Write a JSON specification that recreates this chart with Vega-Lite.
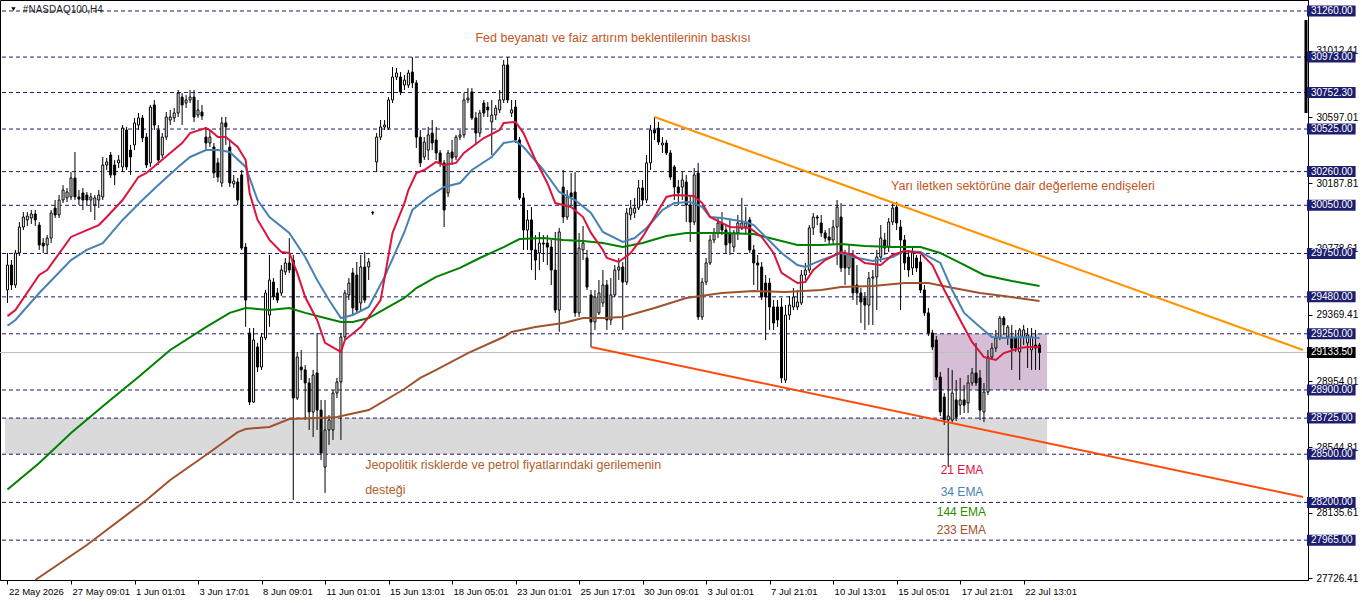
{
"$schema": "https://vega.github.io/schema/vega-lite/v6.json",
"width": 1308, "height": 580,
"autosize": {"type": "none"},
"padding": {"left": 0, "top": 0, "right": 54, "bottom": 23},
"background": "white",
"config": {"view": {"stroke": "#000", "strokeWidth": 1}, "font": "Liberation Sans", "axis": {"grid": false}},
"data": {"values": [{"k": 1}]},
"datasets": {
"bars": [
{"i":0,"o":29523,"h":29753,"l":29442,"c":29678},{"i":1,"o":29678,"h":29709,"l":29523,"c":29554},{"i":2,"o":29554,"h":29772,"l":29535,"c":29753},{"i":3,"o":29753,"h":29946,"l":29734,"c":29915},{"i":4,"o":29915,"h":30008,"l":29896,"c":29977},{"i":5,"o":29959,"h":30008,"l":29921,"c":29983},{"i":6,"o":29971,"h":30021,"l":29934,"c":29996},{"i":7,"o":29996,"h":30021,"l":29921,"c":29959},{"i":8,"o":29927,"h":29946,"l":29772,"c":29803},{"i":9,"o":29815,"h":29846,"l":29753,"c":29797},
{"i":10,"o":29803,"h":29865,"l":29753,"c":29846},{"i":11,"o":29846,"h":30021,"l":29815,"c":30002},{"i":12,"o":30033,"h":30083,"l":29971,"c":29990},{"i":13,"o":29990,"h":30114,"l":29971,"c":30083},{"i":14,"o":30083,"h":30176,"l":30064,"c":30145},{"i":15,"o":30096,"h":30158,"l":30071,"c":30133},{"i":16,"o":30102,"h":30257,"l":30083,"c":30220},{"i":17,"o":30220,"h":30382,"l":30083,"c":30102},{"i":18,"o":30102,"h":30145,"l":30052,"c":30089},{"i":19,"o":30127,"h":30158,"l":30021,"c":30083},
{"i":20,"o":30114,"h":30133,"l":30052,"c":30083},{"i":21,"o":30083,"h":30127,"l":30008,"c":30102},{"i":22,"o":30052,"h":30114,"l":29959,"c":30096},{"i":23,"o":30083,"h":30145,"l":30033,"c":30114},{"i":24,"o":30102,"h":30351,"l":30083,"c":30301},{"i":25,"o":30301,"h":30345,"l":30270,"c":30320},{"i":26,"o":30363,"h":30382,"l":30220,"c":30239},{"i":27,"o":30301,"h":30332,"l":30176,"c":30239},{"i":28,"o":30314,"h":30363,"l":30282,"c":30332},{"i":29,"o":30289,"h":30550,"l":30257,"c":30531},
{"i":30,"o":30519,"h":30538,"l":30270,"c":30289},{"i":31,"o":30394,"h":30426,"l":30239,"c":30351},{"i":32,"o":30426,"h":30594,"l":30394,"c":30563},{"i":33,"o":30550,"h":30625,"l":30519,"c":30594},{"i":34,"o":30594,"h":30612,"l":30444,"c":30469},{"i":35,"o":30475,"h":30500,"l":30282,"c":30301},{"i":36,"o":30314,"h":30675,"l":30289,"c":30662},{"i":37,"o":30675,"h":30706,"l":30519,"c":30550},{"i":38,"o":30519,"h":30550,"l":30301,"c":30332},{"i":39,"o":30363,"h":30500,"l":30345,"c":30475},
{"i":40,"o":30475,"h":30631,"l":30457,"c":30600},{"i":41,"o":30581,"h":30644,"l":30550,"c":30600},{"i":42,"o":30594,"h":30656,"l":30569,"c":30625},{"i":43,"o":30625,"h":30768,"l":30600,"c":30749},{"i":44,"o":30724,"h":30749,"l":30550,"c":30675},{"i":45,"o":30687,"h":30737,"l":30656,"c":30706},{"i":46,"o":30706,"h":30768,"l":30687,"c":30724},{"i":47,"o":30724,"h":30768,"l":30569,"c":30600},{"i":48,"o":30612,"h":30706,"l":30594,"c":30644},{"i":49,"o":30631,"h":30675,"l":30581,"c":30606},
{"i":50,"o":30475,"h":30538,"l":30394,"c":30438},{"i":51,"o":30438,"h":30519,"l":30413,"c":30475},{"i":52,"o":30413,"h":30438,"l":30220,"c":30251},{"i":53,"o":30314,"h":30345,"l":30195,"c":30226},{"i":54,"o":30189,"h":30600,"l":30164,"c":30563},{"i":55,"o":30563,"h":30600,"l":30426,"c":30538},{"i":56,"o":30413,"h":30457,"l":30164,"c":30189},{"i":57,"o":30183,"h":30239,"l":30158,"c":30201},{"i":58,"o":30195,"h":30220,"l":30052,"c":30083},{"i":59,"o":30239,"h":30270,"l":29772,"c":29784},
{"i":60,"o":29790,"h":29815,"l":29293,"c":29460},{"i":61,"o":29255,"h":29286,"l":28806,"c":28825},{"i":62,"o":28825,"h":29286,"l":28819,"c":29211},{"i":63,"o":29168,"h":29193,"l":29012,"c":29043},{"i":64,"o":29043,"h":29255,"l":29025,"c":29230},{"i":65,"o":29224,"h":29523,"l":29211,"c":29504},{"i":66,"o":29367,"h":29741,"l":29293,"c":29585},{"i":67,"o":29572,"h":29597,"l":29460,"c":29479},{"i":68,"o":29504,"h":29535,"l":29442,"c":29460},{"i":69,"o":29504,"h":29678,"l":29485,"c":29647},
{"i":70,"o":29635,"h":29722,"l":29616,"c":29691},{"i":71,"o":29691,"h":29846,"l":29629,"c":29647},{"i":72,"o":29709,"h":29741,"l":28215,"c":28850},{"i":73,"o":28850,"h":29137,"l":28838,"c":29105},{"i":74,"o":29043,"h":29149,"l":28962,"c":29025},{"i":75,"o":29025,"h":29056,"l":28713,"c":28944},{"i":76,"o":28944,"h":28975,"l":28651,"c":28763},{"i":77,"o":28763,"h":29025,"l":28607,"c":28993},{"i":78,"o":29006,"h":29255,"l":28651,"c":28775},{"i":79,"o":28775,"h":28838,"l":28464,"c":28508},
{"i":80,"o":28420,"h":28838,"l":28259,"c":28651},{"i":81,"o":28651,"h":28744,"l":28558,"c":28713},{"i":82,"o":28651,"h":28900,"l":28589,"c":28881},{"i":83,"o":28881,"h":28975,"l":28850,"c":28950},{"i":84,"o":28950,"h":29255,"l":28589,"c":29230},{"i":85,"o":29230,"h":29523,"l":29211,"c":29504},{"i":86,"o":29492,"h":29597,"l":29460,"c":29566},{"i":87,"o":29629,"h":29660,"l":29367,"c":29411},{"i":88,"o":29616,"h":29697,"l":29380,"c":29398},{"i":89,"o":29442,"h":29741,"l":29398,"c":29666},
{"i":90,"o":29666,"h":29759,"l":29442,"c":29460},{"i":91,"o":29666,"h":29722,"l":29585,"c":29697},{"i":92,"o":30002,"h":30015,"l":29990,"c":30006},{"i":93,"o":30320,"h":30500,"l":30257,"c":30475},{"i":94,"o":30475,"h":30581,"l":30457,"c":30538},{"i":95,"o":30538,"h":30581,"l":30519,"c":30550},{"i":96,"o":30531,"h":30724,"l":30519,"c":30706},{"i":97,"o":30706,"h":30911,"l":30687,"c":30849},{"i":98,"o":30849,"h":30905,"l":30830,"c":30874},{"i":99,"o":30849,"h":30880,"l":30737,"c":30756},
{"i":100,"o":30799,"h":30861,"l":30768,"c":30830},{"i":101,"o":30799,"h":30893,"l":30780,"c":30874},{"i":102,"o":30880,"h":30973,"l":30780,"c":30812},{"i":103,"o":30812,"h":30830,"l":30407,"c":30475},{"i":104,"o":30475,"h":30519,"l":30289,"c":30314},{"i":105,"o":30351,"h":30475,"l":30332,"c":30444},{"i":106,"o":30394,"h":30538,"l":30332,"c":30488},{"i":107,"o":30500,"h":30581,"l":30394,"c":30438},{"i":108,"o":30457,"h":30538,"l":30332,"c":30376},{"i":109,"o":30376,"h":30394,"l":30289,"c":30314},
{"i":110,"o":30314,"h":30332,"l":29915,"c":30021},{"i":111,"o":30127,"h":30394,"l":30102,"c":30376},{"i":112,"o":30382,"h":30457,"l":30301,"c":30345},{"i":113,"o":30351,"h":30488,"l":30332,"c":30475},{"i":114,"o":30475,"h":30519,"l":30457,"c":30488},{"i":115,"o":30488,"h":30749,"l":30469,"c":30706},{"i":116,"o":30706,"h":30780,"l":30687,"c":30718},{"i":117,"o":30756,"h":30780,"l":30581,"c":30594},{"i":118,"o":30594,"h":30631,"l":30426,"c":30500},{"i":119,"o":30500,"h":30644,"l":30475,"c":30625},
{"i":120,"o":30687,"h":30706,"l":30600,"c":30625},{"i":121,"o":30662,"h":30693,"l":30600,"c":30644},{"i":122,"o":30569,"h":30706,"l":30363,"c":30612},{"i":123,"o":30612,"h":30675,"l":30581,"c":30656},{"i":124,"o":30644,"h":30768,"l":30625,"c":30706},{"i":125,"o":30706,"h":30955,"l":30687,"c":30924},{"i":126,"o":30924,"h":30973,"l":30687,"c":30706},{"i":127,"o":30625,"h":30706,"l":30600,"c":30644},{"i":128,"o":30662,"h":30706,"l":30438,"c":30457},{"i":129,"o":30457,"h":30475,"l":30083,"c":30096},
{"i":130,"o":30096,"h":30127,"l":29772,"c":29896},{"i":131,"o":29896,"h":30021,"l":29772,"c":29959},{"i":132,"o":29959,"h":30039,"l":29647,"c":29772},{"i":133,"o":29772,"h":29865,"l":29585,"c":29709},{"i":134,"o":29753,"h":29884,"l":29647,"c":29815},{"i":135,"o":29815,"h":29865,"l":29697,"c":29809},{"i":136,"o":29815,"h":29865,"l":29678,"c":29790},{"i":137,"o":29790,"h":29834,"l":29554,"c":29647},{"i":138,"o":29647,"h":29884,"l":29380,"c":29398},{"i":139,"o":29398,"h":29909,"l":29262,"c":29884},
{"i":140,"o":30164,"h":30270,"l":29940,"c":29977},{"i":141,"o":29977,"h":30145,"l":29959,"c":30102},{"i":142,"o":30127,"h":30251,"l":30052,"c":30102},{"i":143,"o":30133,"h":30257,"l":29355,"c":29380},{"i":144,"o":29380,"h":29878,"l":29355,"c":29784},{"i":145,"o":29772,"h":29921,"l":29709,"c":29815},{"i":146,"o":29722,"h":29772,"l":29523,"c":29541},{"i":147,"o":29492,"h":29523,"l":29168,"c":29323},{"i":148,"o":29323,"h":29523,"l":29274,"c":29479},{"i":149,"o":29380,"h":29585,"l":29367,"c":29504},
{"i":150,"o":29442,"h":29647,"l":29417,"c":29554},{"i":151,"o":29554,"h":29585,"l":29274,"c":29336},{"i":152,"o":29336,"h":29597,"l":29305,"c":29492},{"i":153,"o":29492,"h":29678,"l":29479,"c":29647},{"i":154,"o":29647,"h":29722,"l":29585,"c":29666},{"i":155,"o":29666,"h":29697,"l":29274,"c":29572},{"i":156,"o":29572,"h":30033,"l":29554,"c":30002},{"i":157,"o":29990,"h":30083,"l":29959,"c":30033},{"i":158,"o":30002,"h":30096,"l":29971,"c":30033},{"i":159,"o":30033,"h":30208,"l":30021,"c":30158},
{"i":160,"o":30158,"h":30208,"l":30052,"c":30083},{"i":161,"o":30083,"h":30363,"l":30064,"c":30314},{"i":162,"o":30314,"h":30550,"l":30270,"c":30519},{"i":163,"o":30519,"h":30600,"l":30457,"c":30500},{"i":164,"o":30531,"h":30569,"l":30426,"c":30444},{"i":165,"o":30426,"h":30475,"l":30376,"c":30438},{"i":166,"o":30438,"h":30457,"l":30363,"c":30376},{"i":167,"o":30376,"h":30394,"l":30208,"c":30226},{"i":168,"o":30289,"h":30301,"l":30083,"c":30164},{"i":169,"o":30164,"h":30208,"l":30052,"c":30127},
{"i":170,"o":30164,"h":30257,"l":30083,"c":30208},{"i":171,"o":30195,"h":30239,"l":29946,"c":30052},{"i":172,"o":30052,"h":30114,"l":29822,"c":29946},{"i":173,"o":29946,"h":30282,"l":29927,"c":30239},{"i":174,"o":30251,"h":30314,"l":29336,"c":29355},{"i":175,"o":29355,"h":29597,"l":29336,"c":29572},{"i":176,"o":29572,"h":29722,"l":29554,"c":29691},{"i":177,"o":29691,"h":29865,"l":29678,"c":29834},{"i":178,"o":29834,"h":29909,"l":29815,"c":29878},{"i":179,"o":29878,"h":29971,"l":29846,"c":29940},
{"i":180,"o":29940,"h":30008,"l":29865,"c":29896},{"i":181,"o":29896,"h":29927,"l":29753,"c":29803},{"i":182,"o":29878,"h":29959,"l":29741,"c":29815},{"i":183,"o":29790,"h":29896,"l":29759,"c":29878},{"i":184,"o":29878,"h":29990,"l":29834,"c":29940},{"i":185,"o":29909,"h":30096,"l":29896,"c":29940},{"i":186,"o":29915,"h":30039,"l":29878,"c":29940},{"i":187,"o":29959,"h":29977,"l":29753,"c":29772},{"i":188,"o":29772,"h":29803,"l":29554,"c":29691},{"i":189,"o":29691,"h":29741,"l":29523,"c":29678},
{"i":190,"o":29666,"h":29697,"l":29460,"c":29479},{"i":191,"o":29566,"h":29616,"l":29211,"c":29479},{"i":192,"o":29566,"h":29597,"l":29274,"c":29417},{"i":193,"o":29417,"h":29460,"l":29274,"c":29317},{"i":194,"o":29417,"h":29460,"l":29292,"c":29336},{"i":195,"o":29417,"h":29473,"l":28944,"c":28975},{"i":196,"o":28962,"h":29429,"l":28944,"c":29367},{"i":197,"o":29367,"h":29485,"l":29336,"c":29429},{"i":198,"o":29417,"h":29535,"l":29398,"c":29479},{"i":199,"o":29417,"h":29523,"l":29398,"c":29448},
{"i":200,"o":29442,"h":29647,"l":29429,"c":29616},{"i":201,"o":29616,"h":29691,"l":29585,"c":29647},{"i":202,"o":29647,"h":29927,"l":29629,"c":29909},{"i":203,"o":29909,"h":30002,"l":29865,"c":29977},{"i":204,"o":29977,"h":29990,"l":29927,"c":29971},{"i":205,"o":29940,"h":29990,"l":29853,"c":29878},{"i":206,"o":29878,"h":29896,"l":29822,"c":29846},{"i":207,"o":29853,"h":29909,"l":29803,"c":29834},{"i":208,"o":29834,"h":29959,"l":29803,"c":29915},{"i":209,"o":29915,"h":30083,"l":29678,"c":30039},
{"i":210,"o":29977,"h":30064,"l":29635,"c":29660},{"i":211,"o":29741,"h":29772,"l":29554,"c":29660},{"i":212,"o":29660,"h":29803,"l":29616,"c":29741},{"i":213,"o":29741,"h":29772,"l":29460,"c":29504},{"i":214,"o":29554,"h":29678,"l":29430,"c":29504},{"i":215,"o":29504,"h":29535,"l":29317,"c":29448},{"i":216,"o":29473,"h":29510,"l":29274,"c":29429},{"i":217,"o":29429,"h":29635,"l":29305,"c":29597},{"i":218,"o":29597,"h":29647,"l":29305,"c":29604},{"i":219,"o":29604,"h":29772,"l":29398,"c":29728},
{"i":220,"o":29728,"h":29927,"l":29697,"c":29846},{"i":221,"o":29834,"h":29878,"l":29741,"c":29784},{"i":222,"o":29790,"h":29971,"l":29759,"c":29946},{"i":223,"o":29946,"h":30064,"l":29927,"c":30033},{"i":224,"o":30039,"h":30071,"l":29896,"c":29940},{"i":225,"o":29915,"h":29959,"l":29398,"c":29834},{"i":226,"o":29834,"h":29865,"l":29647,"c":29691},{"i":227,"o":29728,"h":29772,"l":29604,"c":29647},{"i":228,"o":29660,"h":29784,"l":29616,"c":29753},{"i":229,"o":29722,"h":29741,"l":29635,"c":29660},
{"i":230,"o":29697,"h":29741,"l":29504,"c":29523},{"i":231,"o":29523,"h":29554,"l":29361,"c":29380},{"i":232,"o":29380,"h":29411,"l":29236,"c":29255},{"i":233,"o":29255,"h":29274,"l":29149,"c":29168},{"i":234,"o":29211,"h":29236,"l":28962,"c":28981},{"i":235,"o":28981,"h":29012,"l":28738,"c":28763},{"i":236,"o":28856,"h":28881,"l":28682,"c":28713},{"i":237,"o":28713,"h":29037,"l":28421,"c":28738},{"i":238,"o":28713,"h":29025,"l":28700,"c":28881},{"i":239,"o":28838,"h":28962,"l":28707,"c":28732},
{"i":240,"o":28806,"h":28975,"l":28744,"c":28838},{"i":241,"o":28838,"h":28931,"l":28757,"c":28806},{"i":242,"o":28819,"h":28993,"l":28757,"c":28944},{"i":243,"o":28944,"h":29037,"l":28925,"c":29006},{"i":244,"o":29006,"h":29193,"l":28925,"c":28944},{"i":245,"o":28975,"h":29025,"l":28713,"c":28775},{"i":246,"o":28763,"h":28944,"l":28700,"c":28887},{"i":247,"o":28887,"h":29149,"l":28869,"c":29105},{"i":248,"o":29105,"h":29193,"l":29087,"c":29161},{"i":249,"o":29161,"h":29274,"l":29137,"c":29224},
{"i":250,"o":29224,"h":29361,"l":29211,"c":29348},{"i":251,"o":29348,"h":29361,"l":29243,"c":29305},{"i":252,"o":29230,"h":29305,"l":29180,"c":29292},{"i":253,"o":29230,"h":29305,"l":29025,"c":29161},{"i":254,"o":29224,"h":29274,"l":29137,"c":29161},{"i":255,"o":29137,"h":29286,"l":28962,"c":29274},{"i":256,"o":29230,"h":29305,"l":29180,"c":29274},{"i":257,"o":29193,"h":29286,"l":29037,"c":29243},{"i":258,"o":29149,"h":29286,"l":29025,"c":29230},{"i":259,"o":29180,"h":29274,"l":29025,"c":29161},
{"i":260,"o":29180,"h":29193,"l":29025,"c":29133.5}
],
"e21": [
{"i":0,"v":29360},{"i":2,"v":29398},{"i":8,"v":29616},{"i":10,"v":29647},{"i":16,"v":29853},{"i":20,"v":29896},{"i":23,"v":29927},{"i":25,"v":29977},{"i":29,"v":30083},{"i":33,"v":30226},{"i":35,"v":30251},{"i":38,"v":30314},{"i":41,"v":30376},{"i":44,"v":30438},{"i":46,"v":30500},{"i":50,"v":30531},{"i":51,"v":30519},{"i":53,"v":30475},{"i":55,"v":30475},{"i":58,"v":30413},{"i":60,"v":30332},{"i":61,"v":30127},{"i":63,"v":29959},{"i":65,"v":29878},{"i":66,"v":29834},{"i":69,"v":29759},{"i":71,"v":29753},{"i":73,"v":29629},{"i":75,"v":29479},{"i":78,"v":29336},{"i":80,"v":29193},{"i":84,"v":29137},{"i":85,"v":29211},{"i":89,"v":29292},{"i":91,"v":29355},{"i":94,"v":29460},{"i":97,"v":29878},{"i":100,"v":30064},{"i":101,"v":30145},{"i":103,"v":30251},{"i":105,"v":30270},{"i":108,"v":30320},{"i":110,"v":30301},{"i":113,"v":30314},{"i":115,"v":30376},{"i":117,"v":30413},{"i":120,"v":30469},{"i":124,"v":30519},{"i":125,"v":30563},{"i":128,"v":30569},{"i":130,"v":30500},{"i":133,"v":30332},{"i":136,"v":30189},{"i":138,"v":30064},{"i":142,"v":30039},{"i":145,"v":29977},{"i":147,"v":29878},{"i":150,"v":29772},{"i":151,"v":29722},{"i":154,"v":29697},{"i":157,"v":29753},{"i":160,"v":29853},{"i":163,"v":29977},{"i":166,"v":30102},{"i":168,"v":30114},{"i":173,"v":30108},{"i":175,"v":30064},{"i":177,"v":29977},{"i":182,"v":29915},{"i":187,"v":29909},{"i":190,"v":29853},{"i":193,"v":29753},{"i":195,"v":29629},{"i":199,"v":29566},{"i":201,"v":29572},{"i":203,"v":29647},{"i":206,"v":29709},{"i":210,"v":29759},{"i":213,"v":29741},{"i":216,"v":29691},{"i":220,"v":29678},{"i":223,"v":29741},{"i":226,"v":29766},{"i":230,"v":29753},{"i":233,"v":29678},{"i":236,"v":29523},{"i":240,"v":29336},{"i":243,"v":29199},{"i":246,"v":29105},{"i":249,"v":29087},{"i":251,"v":29130},{"i":255,"v":29161},{"i":257,"v":29168},{"i":260,"v":29168}
],
"e34": [
{"i":0,"v":29300},{"i":2,"v":29336},{"i":8,"v":29504},{"i":16,"v":29709},{"i":20,"v":29772},{"i":24,"v":29815},{"i":29,"v":29959},{"i":34,"v":30083},{"i":38,"v":30176},{"i":43,"v":30289},{"i":46,"v":30351},{"i":50,"v":30394},{"i":53,"v":30394},{"i":56,"v":30382},{"i":60,"v":30289},{"i":63,"v":30083},{"i":66,"v":29977},{"i":71,"v":29878},{"i":75,"v":29728},{"i":78,"v":29585},{"i":81,"v":29460},{"i":84,"v":29348},{"i":87,"v":29367},{"i":91,"v":29417},{"i":95,"v":29604},{"i":100,"v":29884},{"i":102,"v":30021},{"i":106,"v":30102},{"i":110,"v":30164},{"i":114,"v":30189},{"i":117,"v":30270},{"i":122,"v":30351},{"i":125,"v":30438},{"i":128,"v":30450},{"i":130,"v":30413},{"i":135,"v":30270},{"i":139,"v":30133},{"i":143,"v":30083},{"i":147,"v":30002},{"i":150,"v":29884},{"i":155,"v":29822},{"i":158,"v":29846},{"i":161,"v":29909},{"i":165,"v":30021},{"i":168,"v":30064},{"i":172,"v":30071},{"i":175,"v":30040},{"i":177,"v":29977},{"i":180,"v":29971},{"i":186,"v":29946},{"i":188,"v":29927},{"i":191,"v":29853},{"i":195,"v":29753},{"i":199,"v":29678},{"i":201,"v":29666},{"i":205,"v":29709},{"i":210,"v":29753},{"i":213,"v":29728},{"i":218,"v":29703},{"i":223,"v":29728},{"i":226,"v":29766},{"i":230,"v":29759},{"i":235,"v":29691},{"i":238,"v":29523},{"i":241,"v":29380},{"i":245,"v":29292},{"i":248,"v":29230},{"i":251,"v":29224},{"i":256,"v":29230},{"i":260,"v":29224}
],
"e144": [
{"i":0,"v":28280},{"i":8,"v":28445},{"i":16,"v":28632},{"i":25,"v":28819},{"i":33,"v":28981},{"i":41,"v":29149},{"i":50,"v":29292},{"i":56,"v":29380},{"i":60,"v":29411},{"i":66,"v":29398},{"i":71,"v":29411},{"i":75,"v":29380},{"i":80,"v":29348},{"i":84,"v":29323},{"i":87,"v":29323},{"i":91,"v":29348},{"i":100,"v":29473},{"i":103,"v":29535},{"i":108,"v":29604},{"i":114,"v":29660},{"i":119,"v":29722},{"i":125,"v":29790},{"i":129,"v":29840},{"i":135,"v":29846},{"i":140,"v":29834},{"i":145,"v":29828},{"i":150,"v":29815},{"i":155,"v":29790},{"i":160,"v":29815},{"i":166,"v":29859},{"i":171,"v":29878},{"i":180,"v":29878},{"i":188,"v":29871},{"i":193,"v":29840},{"i":199,"v":29803},{"i":205,"v":29803},{"i":210,"v":29809},{"i":216,"v":29797},{"i":223,"v":29790},{"i":230,"v":29790},{"i":235,"v":29753},{"i":240,"v":29691},{"i":246,"v":29616},{"i":253,"v":29579},{"i":260,"v":29548}
],
"e233": [
{"i":7,"v":27717},{"i":20,"v":27935},{"i":35,"v":28215},{"i":41,"v":28340},{"i":50,"v":28495},{"i":58,"v":28638},{"i":60,"v":28657},{"i":66,"v":28670},{"i":71,"v":28719},{"i":78,"v":28726},{"i":83,"v":28732},{"i":91,"v":28775},{"i":100,"v":28906},{"i":104,"v":28975},{"i":108,"v":29025},{"i":116,"v":29130},{"i":125,"v":29230},{"i":127,"v":29261},{"i":133,"v":29292},{"i":140,"v":29317},{"i":145,"v":29348},{"i":150,"v":29348},{"i":155,"v":29355},{"i":163,"v":29411},{"i":171,"v":29473},{"i":180,"v":29504},{"i":188,"v":29516},{"i":196,"v":29510},{"i":205,"v":29523},{"i":210,"v":29541},{"i":218,"v":29548},{"i":226,"v":29566},{"i":232,"v":29566},{"i":237,"v":29541},{"i":245,"v":29504},{"i":251,"v":29486},{"i":260,"v":29454}
],
"trend": [
{"i":163,"v":30600,"s":"up"},{"i":326.375,"v":29149,"s":"up"},
{"i":147,"v":29168,"s":"down"},{"i":326.375,"v":28234,"s":"down"}
],
"levels": [{"v":31260},{"v":30973},{"v":30752.3},{"v":30525},{"v":30260},{"v":30050},{"v":29750},{"v":29480},{"v":29250},{"v":28900},{"v":28725},{"v":28500},{"v":28200},{"v":27965}],
"last": [{"v":29133.5}]
},
"layer": [
{"mark": {"type": "rect", "color": "#dadada"},
 "encoding": {"x": {"datum": -0.625, "type": "quantitative", "scale": {"domain": [-0.625, 326.375], "nice": false, "zero": false}, "title": null},
  "x2": {"datum": 261.9},
  "y": {"datum": 28725, "type": "quantitative", "scale": {"domain": [27716.8, 31328.5], "nice": false, "zero": false}, "title": null},
  "y2": {"datum": 28500}}},
{"mark": {"type": "rect", "color": "#d6bfd6"},
 "encoding": {"x": {"datum": 233.1, "type": "quantitative", "scale": {"domain": [-0.625, 326.375], "nice": false, "zero": false}, "title": null},
  "x2": {"datum": 261.9},
  "y": {"datum": 29250, "type": "quantitative", "scale": {"domain": [27716.8, 31328.5], "nice": false, "zero": false}, "title": null},
  "y2": {"datum": 28900}}},
{"data": {"name": "levels"}, "mark": {"type": "rule", "color": "#1a1a6e", "strokeWidth": 1, "strokeDash": [4, 3]},
 "encoding": {"y": {"field": "v", "type": "quantitative", "scale": {"domain": [27716.8, 31328.5], "nice": false, "zero": false}, "title": null}}},
{"data": {"name": "last"}, "mark": {"type": "rule", "color": "#c0c0c0", "strokeWidth": 1},
 "encoding": {"y": {"field": "v", "type": "quantitative", "scale": {"domain": [27716.8, 31328.5], "nice": false, "zero": false}, "title": null}}},
{"data": {"name": "bars"}, "mark": {"type": "rule", "color": "#000", "strokeWidth": 1},
 "encoding": {
  "x": {"field": "i", "type": "quantitative", "scale": {"domain": [-0.625, 326.375], "nice": false, "zero": false}, "title": null,
   "axis": {"orient": "bottom", "values": [0,16,32,48,64,80,96,112,128,144,160,176,192,208,224,240,256],
    "labelExpr": "['22 May 2026','27 May 09:01','1 Jun 01:01','3 Jun 17:01','8 Jun 09:01','11 Jun 01:01','15 Jun 13:01','18 Jun 05:01','23 Jun 01:01','25 Jun 17:01','30 Jun 09:01','3 Jul 01:01','7 Jul 21:01','10 Jul 13:01','15 Jul 05:01','17 Jul 21:01','22 Jul 13:01'][round(datum.value/16)]",
    "tickSize": 4, "tickColor": "#000", "domainColor": "#000", "labelAlign": "left", "labelBaseline": "top", "labelPadding": 2, "labelOffset": 1,
    "labelFontSize": 9.5, "labelColor": "#000", "labelOverlap": false, "labelFlush": false, "grid": false, "title": null}},
  "y": {"field": "h", "type": "quantitative", "scale": {"domain": [27716.8, 31328.5], "nice": false, "zero": false}, "title": null,
   "axis": {"orient": "right", "values": [31217.01,31012.41,30801.61,30597.01,30392.41,30187.81,29983.21,29778.61,29574.01,29369.41,29158.61,28954.01,28749.41,28544.81,28340.21,28135.61,27931.01,27726.41],
    "format": ".2f", "tickSize": 4, "tickColor": "#000", "domainColor": "#000", "labelFontSize": 10, "labelColor": "#000", "labelPadding": 4,
    "labelOverlap": false, "labelFlush": false, "labelBaseline": "middle", "labelAlign": "left", "grid": false, "title": null}},
  "y2": {"field": "l"}}},
{"data": {"name": "bars"}, "mark": {"type": "bar", "width": 2, "stroke": "#000", "strokeWidth": 1, "orient": "vertical"},
 "encoding": {
  "x": {"field": "i", "type": "quantitative", "scale": {"domain": [-0.625, 326.375], "nice": false, "zero": false}, "title": null},
  "y": {"field": "o", "type": "quantitative", "scale": {"domain": [27716.8, 31328.5], "nice": false, "zero": false}, "title": null},
  "y2": {"field": "c"},
  "fill": {"condition": {"test": "datum.c >= datum.o", "value": "#ffffff"}, "value": "#000000"}}},
{"data": {"name": "e233"}, "mark": {"type": "line", "color": "#a0522d", "strokeWidth": 2, "clip": true},
 "encoding": {"x": {"field": "i", "type": "quantitative", "scale": {"domain": [-0.625, 326.375], "nice": false, "zero": false}, "title": null},
  "y": {"field": "v", "type": "quantitative", "scale": {"domain": [27716.8, 31328.5], "nice": false, "zero": false}, "title": null}}},
{"data": {"name": "e144"}, "mark": {"type": "line", "color": "#008000", "strokeWidth": 2},
 "encoding": {"x": {"field": "i", "type": "quantitative", "scale": {"domain": [-0.625, 326.375], "nice": false, "zero": false}, "title": null},
  "y": {"field": "v", "type": "quantitative", "scale": {"domain": [27716.8, 31328.5], "nice": false, "zero": false}, "title": null}}},
{"data": {"name": "e34"}, "mark": {"type": "line", "color": "#4682b4", "strokeWidth": 2},
 "encoding": {"x": {"field": "i", "type": "quantitative", "scale": {"domain": [-0.625, 326.375], "nice": false, "zero": false}, "title": null},
  "y": {"field": "v", "type": "quantitative", "scale": {"domain": [27716.8, 31328.5], "nice": false, "zero": false}, "title": null}}},
{"data": {"name": "e21"}, "mark": {"type": "line", "color": "#dc143c", "strokeWidth": 2},
 "encoding": {"x": {"field": "i", "type": "quantitative", "scale": {"domain": [-0.625, 326.375], "nice": false, "zero": false}, "title": null},
  "y": {"field": "v", "type": "quantitative", "scale": {"domain": [27716.8, 31328.5], "nice": false, "zero": false}, "title": null}}},
{"data": {"name": "trend"}, "mark": {"type": "line", "strokeWidth": 2},
 "encoding": {"x": {"field": "i", "type": "quantitative", "scale": {"domain": [-0.625, 326.375], "nice": false, "zero": false}, "title": null},
  "y": {"field": "v", "type": "quantitative", "scale": {"domain": [27716.8, 31328.5], "nice": false, "zero": false}, "title": null},
  "color": {"field": "s", "type": "nominal", "scale": {"domain": ["up", "down"], "range": ["#ff9400", "#ff4a0a"]}, "legend": null}}},
{"mark": {"type": "text", "text": "Fed beyanatı ve faiz artırım beklentilerinin baskısı", "align": "left", "baseline": "middle", "fontSize": 12.5, "color": "#c4561e"},
 "encoding": {"x": {"datum": 117.9, "type": "quantitative", "scale": {"domain": [-0.625, 326.375], "nice": false, "zero": false}, "title": null},
  "y": {"datum": 31092, "type": "quantitative", "scale": {"domain": [27716.8, 31328.5], "nice": false, "zero": false}, "title": null}}},
{"mark": {"type": "text", "text": "Yarı iletken sektörüne dair değerleme endişeleri", "align": "left", "baseline": "middle", "fontSize": 12.5, "color": "#c4561e"},
 "encoding": {"x": {"datum": 222.6, "type": "quantitative", "scale": {"domain": [-0.625, 326.375], "nice": false, "zero": false}, "title": null},
  "y": {"datum": 30170, "type": "quantitative", "scale": {"domain": [27716.8, 31328.5], "nice": false, "zero": false}, "title": null}}},
{"mark": {"type": "text", "text": "Jeopolitik risklerde ve petrol fiyatlarındaki gerilemenin", "align": "left", "baseline": "middle", "fontSize": 12.5, "color": "#b0602a"},
 "encoding": {"x": {"datum": 90.1, "type": "quantitative", "scale": {"domain": [-0.625, 326.375], "nice": false, "zero": false}, "title": null},
  "y": {"datum": 28433, "type": "quantitative", "scale": {"domain": [27716.8, 31328.5], "nice": false, "zero": false}, "title": null}}},
{"mark": {"type": "text", "text": "desteği", "align": "left", "baseline": "middle", "fontSize": 12.5, "color": "#b0602a"},
 "encoding": {"x": {"datum": 90.1, "type": "quantitative", "scale": {"domain": [-0.625, 326.375], "nice": false, "zero": false}, "title": null},
  "y": {"datum": 28277, "type": "quantitative", "scale": {"domain": [27716.8, 31328.5], "nice": false, "zero": false}, "title": null}}},
{"mark": {"type": "text", "text": "21 EMA", "align": "left", "baseline": "middle", "fontSize": 12, "color": "#dc143c"},
 "encoding": {"x": {"datum": 235.1, "type": "quantitative", "scale": {"domain": [-0.625, 326.375], "nice": false, "zero": false}, "title": null},
  "y": {"datum": 28402, "type": "quantitative", "scale": {"domain": [27716.8, 31328.5], "nice": false, "zero": false}, "title": null}}},
{"mark": {"type": "text", "text": "34 EMA", "align": "left", "baseline": "middle", "fontSize": 12, "color": "#4682b4"},
 "encoding": {"x": {"datum": 235.1, "type": "quantitative", "scale": {"domain": [-0.625, 326.375], "nice": false, "zero": false}, "title": null},
  "y": {"datum": 28265, "type": "quantitative", "scale": {"domain": [27716.8, 31328.5], "nice": false, "zero": false}, "title": null}}},
{"mark": {"type": "text", "text": "144 EMA", "align": "left", "baseline": "middle", "fontSize": 12, "color": "#2e8b00"},
 "encoding": {"x": {"datum": 234.1, "type": "quantitative", "scale": {"domain": [-0.625, 326.375], "nice": false, "zero": false}, "title": null},
  "y": {"datum": 28140, "type": "quantitative", "scale": {"domain": [27716.8, 31328.5], "nice": false, "zero": false}, "title": null}}},
{"mark": {"type": "text", "text": "233 EMA", "align": "left", "baseline": "middle", "fontSize": 12, "color": "#a0522d"},
 "encoding": {"x": {"datum": 234.1, "type": "quantitative", "scale": {"domain": [-0.625, 326.375], "nice": false, "zero": false}, "title": null},
  "y": {"datum": 28028, "type": "quantitative", "scale": {"domain": [27716.8, 31328.5], "nice": false, "zero": false}, "title": null}}},
{"mark": {"type": "text", "text": "#NASDAQ100,H4", "align": "left", "baseline": "middle", "fontSize": 10, "color": "#222"},
 "encoding": {"x": {"datum": 3.875, "type": "quantitative", "scale": {"domain": [-0.625, 326.375], "nice": false, "zero": false}, "title": null},
  "y": {"datum": 31266, "type": "quantitative", "scale": {"domain": [27716.8, 31328.5], "nice": false, "zero": false}, "title": null}}},
{"mark": {"type": "point", "shape": "triangle-down", "filled": true, "color": "#000", "size": 18, "opacity": 1},
 "encoding": {"x": {"datum": 1.5, "type": "quantitative", "scale": {"domain": [-0.625, 326.375], "nice": false, "zero": false}, "title": null},
  "y": {"datum": 31272, "type": "quantitative", "scale": {"domain": [27716.8, 31328.5], "nice": false, "zero": false}, "title": null}}},
{"mark": {"type": "rule", "color": "#000", "strokeWidth": 3},
 "encoding": {"x": {"datum": 327.125, "type": "quantitative", "scale": {"domain": [-0.625, 326.375], "nice": false, "zero": false}, "title": null},
  "y": {"datum": 31204, "type": "quantitative", "scale": {"domain": [27716.8, 31328.5], "nice": false, "zero": false}, "title": null},
  "y2": {"datum": 30625}}},
{"data": {"name": "levels"}, "mark": {"type": "rule", "color": "#1e1e6e", "strokeWidth": 11},
 "encoding": {"x": {"datum": 327.375, "type": "quantitative", "scale": {"domain": [-0.625, 326.375], "nice": false, "zero": false}, "title": null},
  "x2": {"datum": 339.625},
  "y": {"field": "v", "type": "quantitative", "scale": {"domain": [27716.8, 31328.5], "nice": false, "zero": false}, "title": null}}},
{"data": {"name": "last"}, "mark": {"type": "rule", "color": "#000", "strokeWidth": 11},
 "encoding": {"x": {"datum": 327.375, "type": "quantitative", "scale": {"domain": [-0.625, 326.375], "nice": false, "zero": false}, "title": null},
  "x2": {"datum": 339.625},
  "y": {"field": "v", "type": "quantitative", "scale": {"domain": [27716.8, 31328.5], "nice": false, "zero": false}, "title": null}}},
{"data": {"name": "levels"}, "mark": {"type": "text", "align": "left", "baseline": "middle", "fontSize": 10, "color": "#fff"},
 "encoding": {"x": {"datum": 328.375, "type": "quantitative", "scale": {"domain": [-0.625, 326.375], "nice": false, "zero": false}, "title": null},
  "y": {"field": "v", "type": "quantitative", "scale": {"domain": [27716.8, 31328.5], "nice": false, "zero": false}, "title": null},
  "text": {"field": "v", "type": "quantitative", "format": ".2f"}}},
{"data": {"name": "last"}, "mark": {"type": "text", "align": "left", "baseline": "middle", "fontSize": 10, "color": "#fff"},
 "encoding": {"x": {"datum": 328.375, "type": "quantitative", "scale": {"domain": [-0.625, 326.375], "nice": false, "zero": false}, "title": null},
  "y": {"field": "v", "type": "quantitative", "scale": {"domain": [27716.8, 31328.5], "nice": false, "zero": false}, "title": null},
  "text": {"field": "v", "type": "quantitative", "format": ".2f"}}}
]
}
